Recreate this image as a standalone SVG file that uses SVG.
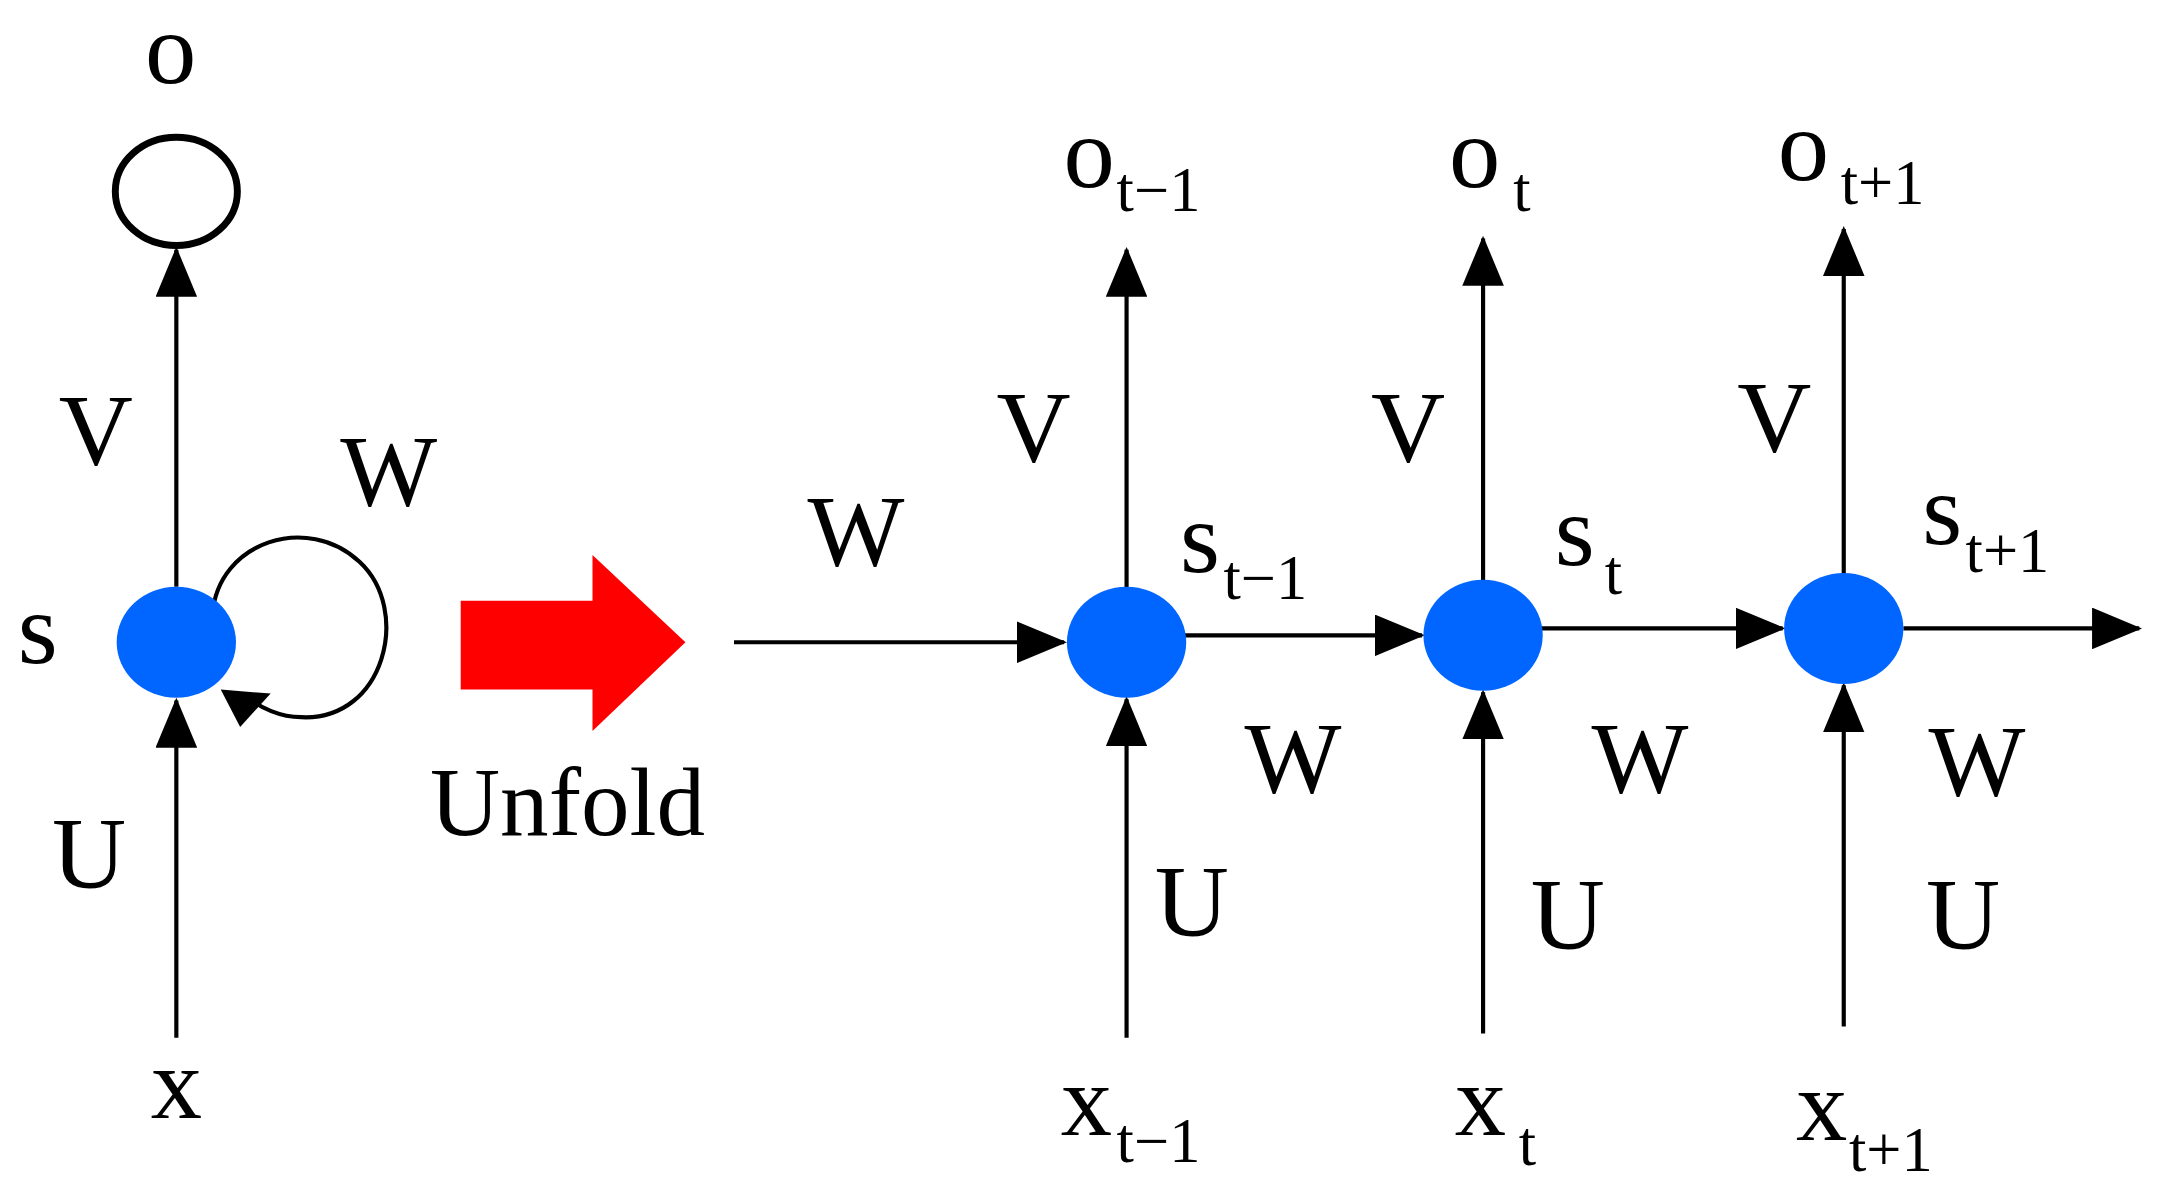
<svg xmlns="http://www.w3.org/2000/svg" width="2164" height="1197" viewBox="0 0 2164 1197">
<style>
.t{font-family:"Liberation Serif","Times New Roman",serif;fill:#000;text-anchor:middle}
.b{font-size:74px}.sub{font-size:45px}
.ln{stroke:#000;stroke-width:3;fill:none}
.node{fill:#0066FF}
</style>
<defs>
<marker id="ah" markerUnits="userSpaceOnUse" markerWidth="36" markerHeight="30" refX="34" refY="15" orient="auto"><path d="M0,0 L36,15 L0,30 Z" fill="#000"/></marker>
</defs>
<rect width="2164" height="1197" fill="#fff"/>
<g transform="translate(-4,0) scale(1.3872)">
<g id="connectors">
<line class="ln" x1="130" y1="748" x2="130" y2="505" marker-end="url(#ah)"/>
<line class="ln" x1="130" y1="423" x2="130" y2="180" marker-end="url(#ah)"/>
<path class="ln" d="M156,443 C160,390 225,370 262,405 C300,440 280,520 220,517 C205,517 190,510 182,503" />
<path d="M162,497 L198,500 L176,524 Z" fill="#000"/>
<line class="ln" x1="532" y1="463" x2="770" y2="463" marker-end="url(#ah)"/>
<line class="ln" x1="857" y1="458" x2="1028" y2="458" marker-end="url(#ah)"/>
<line class="ln" x1="1113" y1="453" x2="1288" y2="453" marker-end="url(#ah)"/>
<line class="ln" x1="1375" y1="453" x2="1545" y2="453" marker-end="url(#ah)"/>
<line class="ln" x1="815" y1="748" x2="815" y2="504" marker-end="url(#ah)"/>
<line class="ln" x1="815" y1="424" x2="815" y2="180" marker-end="url(#ah)"/>
<line class="ln" x1="1072" y1="745" x2="1072" y2="499" marker-end="url(#ah)"/>
<line class="ln" x1="1072" y1="419" x2="1072" y2="172" marker-end="url(#ah)"/>
<line class="ln" x1="1332" y1="740" x2="1332" y2="494" marker-end="url(#ah)"/>
<line class="ln" x1="1332" y1="414" x2="1332" y2="165" marker-end="url(#ah)"/>
</g>
<g id="node-o"><ellipse cx="130" cy="138" rx="44" ry="39" fill="none" stroke="#000" stroke-width="5"/></g>
<g id="node-s"><ellipse class="node" cx="130" cy="463" rx="43" ry="40"/></g>
<g id="node-s1"><ellipse class="node" cx="815" cy="463" rx="43" ry="40"/></g>
<g id="node-s2"><ellipse class="node" cx="1072" cy="458" rx="43" ry="40"/></g>
<g id="node-s3"><ellipse class="node" cx="1332" cy="453" rx="43" ry="40"/></g>
<g id="unfold"><path d="M335,433 L430,433 L430,400 L497,463 L430,527 L430,497 L335,497 Z" fill="#FF0000"/>
<text class="t" x="412" y="602" font-size="70">Unfold</text></g>
<g id="labels">
<text class="t b" x="126" y="60">o</text>
<text class="t b" x="72" y="335">V</text>
<text class="t b" x="283" y="365">W</text>
<text class="t b" x="30" y="478">s</text>
<text class="t b" x="67" y="640">U</text>
<text class="t b" x="130" y="806">x</text>
<text class="t b" x="620" y="408">W</text>
<text class="t b" x="748" y="333">V</text>
<text class="t b" x="1018" y="333">V</text>
<text class="t b" x="1282" y="326">V</text>
<text class="t b" x="935" y="572">W</text>
<text class="t b" x="1185" y="572">W</text>
<text class="t b" x="1428" y="574">W</text>
<text class="t b" x="862" y="675">U</text>
<text class="t b" x="1133" y="684">U</text>
<text class="t b" x="1418" y="684">U</text>
<text class="t b" x="788" y="135">o</text><text class="t sub" x="838" y="152">t−1</text>
<text class="t b" x="1066" y="135">o</text><text class="t sub" x="1100" y="152">t</text>
<text class="t b" x="1303" y="130">o</text><text class="t sub" x="1360" y="147">t+1</text>
<text class="t b" x="868" y="412">s</text><text class="t sub" x="915" y="432">t−1</text>
<text class="t b" x="1138" y="407">s</text><text class="t sub" x="1166" y="428">t</text>
<text class="t b" x="1403" y="392">s</text><text class="t sub" x="1450" y="412">t+1</text>
<text class="t b" x="786" y="818">x</text><text class="t sub" x="838" y="838">t−1</text>
<text class="t b" x="1070" y="818">x</text><text class="t sub" x="1104" y="840">t</text>
<text class="t b" x="1316" y="822">x</text><text class="t sub" x="1366" y="844">t+1</text>
</g>
</g>
</svg>
